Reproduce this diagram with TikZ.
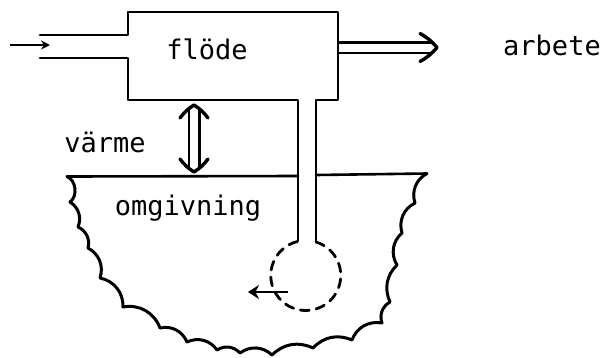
\documentclass[tikz,border=0pt]{standalone}
\usepackage{fontspec}
\newfontfamily\labelfont{DejaVu Sans Mono}
\usetikzlibrary{arrows.meta,calc}
\begin{document}
\begin{tikzpicture}[x=1pt,y=-1pt,
  wall/.style={line width=2.6pt, line join=round, line cap=round},
  scallop/.style={line width=3pt, line join=round, line cap=round},
  dbl/.style={line width=2.5pt, double, double distance=8pt},
  head/.style={line width=3.4pt, line join=round, line cap=round},
  lbl/.style={font=\labelfont\fontsize{27}{30}\selectfont, inner sep=0pt, anchor=base},
  rot/.style={line width=2.8pt, dash pattern=on 9pt off 7pt, line cap=round}]
\useasboundingbox (0,0) rectangle (603,357);
% named points
\coordinate (inA) at (10,45);
\coordinate (inB) at (50,45);
\coordinate (outA) at (339,47.5);
\coordinate (outB) at (437,47.5);
\coordinate (qA) at (194,105);
\coordinate (qB) at (194,172);
\coordinate (c) at (306,274);
\coordinate (rA) at (288,292);
\coordinate (rB) at (248,292);
% box with inlet pipe and shaft
\draw[wall] (40,35) -- (128,35) -- (128,12) -- (338,12) -- (338,100) -- (316,100) -- (316,242);
\draw[wall] (40,58) -- (128,58) -- (128,100) -- (298,100) -- (298,241);
% surroundings top line
\draw[wall] (67,176.5) -- (298,176);
\draw[wall] (316,175) -- (427,173.5);
% scalloped boundary
\draw[scallop] (67,176.5) to[bend left=60] (70,202) to[bend left=40] (78,227)
  to[bend left=40] (88,248) to[bend left=40] (100,278) to[bend left=40] (123,307)
  to[bend left=40] (160,328) to[bend left=40] (187,342) to[bend left=40] (217,350)
  to[bend left=40] (240,353) to[bend left=40] (272,355) to[bend left=35] (313,348)
  to[bend left=35] (352,340) to[bend left=40] (382,323) to[bend left=40] (390,302)
  to[bend left=35] (397,265) to[bend left=40] (402,233) to[bend left=40] (415,203)
  to[bend left=40] (427,173.5);
% rotating wheel (dashed)
\draw[rot] (316,242) arc[start angle=-73, end angle=256, radius=35];
\draw[line width=2.6pt, -{Stealth[length=11pt,width=14pt]}] (rA) -- (rB);
% inlet arrow
\draw[line width=2.2pt, -{Stealth[length=9pt,width=9pt]}] (inA) -- (inB);
% work arrow (double)
\draw[dbl] (outA) -- ($(outB)+(-5,0)$);
\draw[head] ($(outB)+(-17,-14)$) to[bend left=10] (outB) to[bend left=10] ($(outB)+(-17,14)$);
% heat arrow (double, both ways)
\draw[dbl] ($(qA)+(0,4)$) -- ($(qB)+(0,-4)$);
\draw[head] ($(qA)+(-14,13)$) to[bend left=10] (qA) to[bend left=10] ($(qA)+(14,13)$);
\draw[head] ($(qB)+(-14,-13)$) to[bend right=10] (qB) to[bend right=10] ($(qB)+(14,-13)$);
% labels
\node[lbl] (flode) at (207,59) {flöde};
\node[lbl] (arbete) at (552,55) {arbete};
\node[lbl] (varme) at (105,152) {värme};
\node[lbl] (omg) at (188,215) {omgivning};
\end{tikzpicture}
\end{document}
